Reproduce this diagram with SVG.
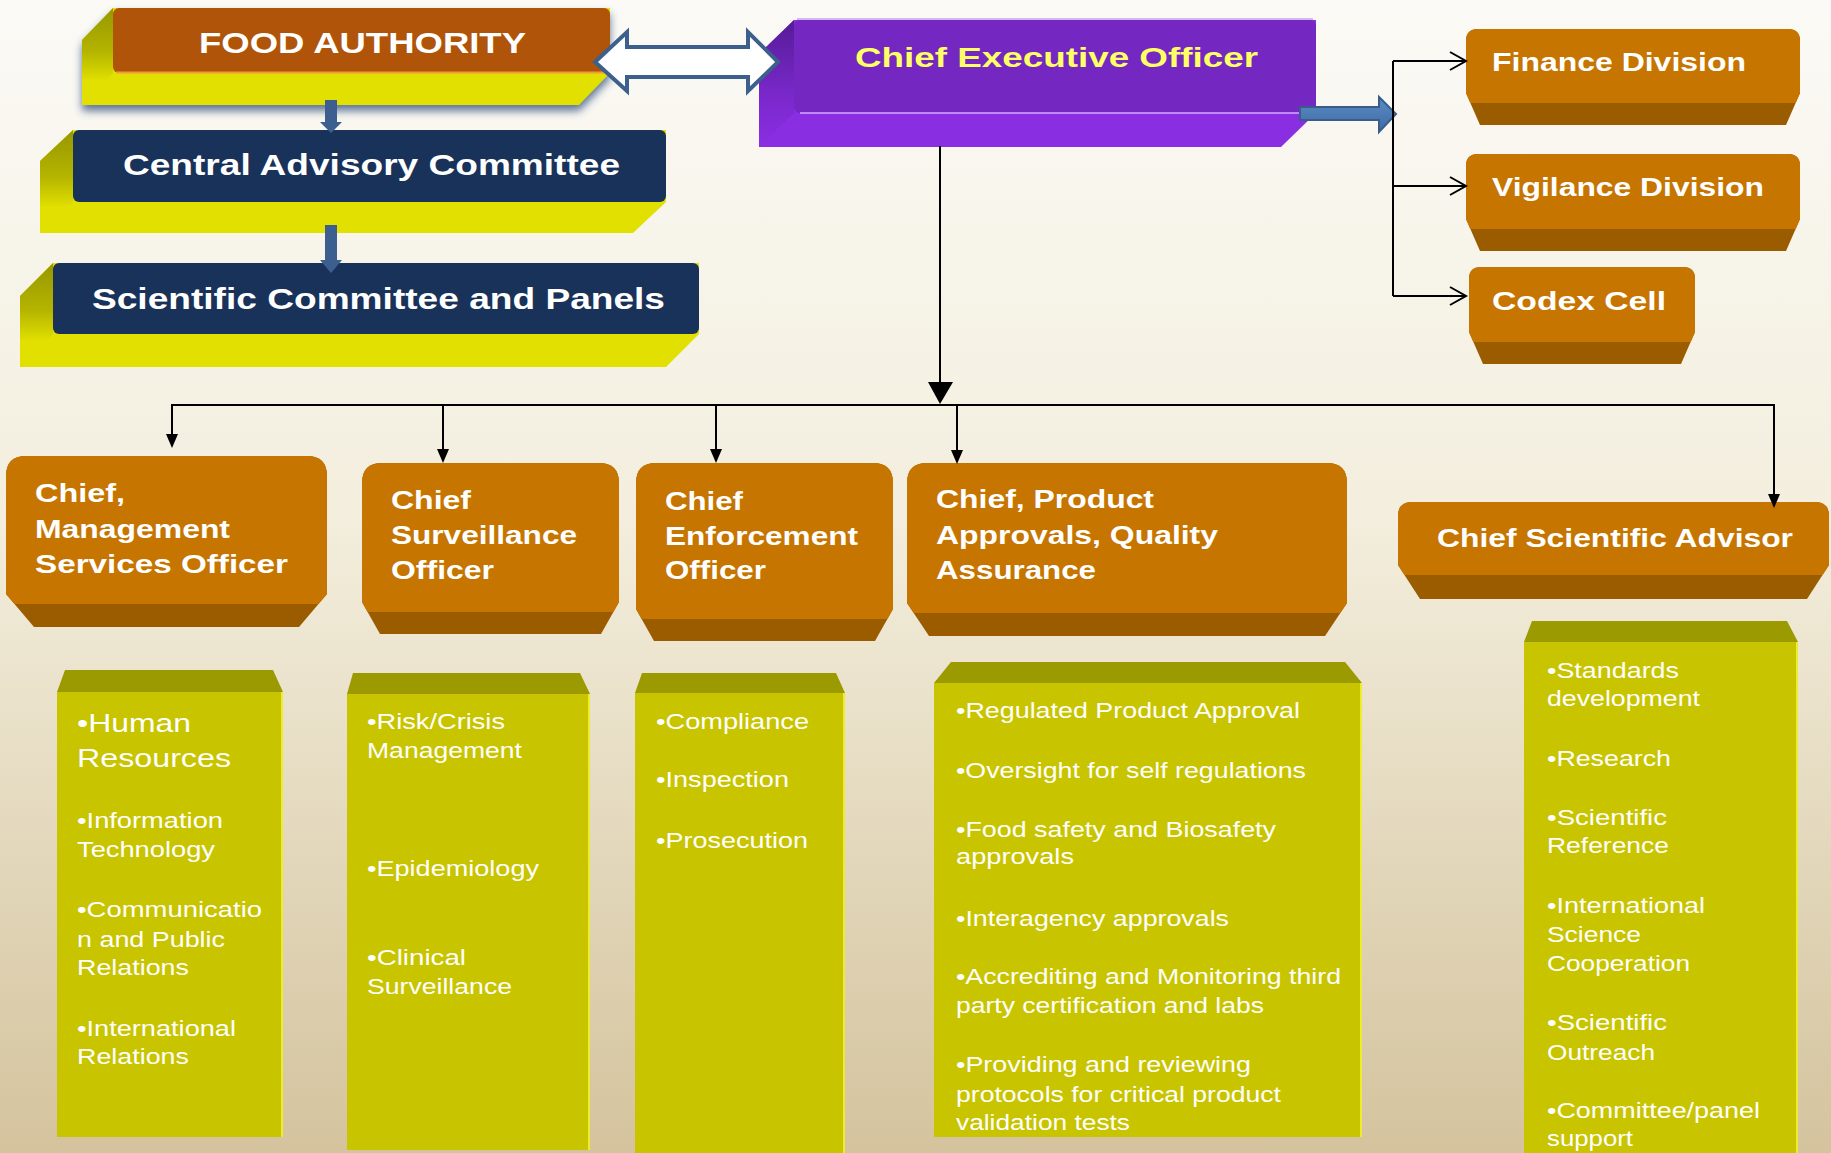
<svg xmlns="http://www.w3.org/2000/svg" width="1831" height="1153" viewBox="0 0 1831 1153">
<defs>
<linearGradient id="bg" x1="0" y1="0" x2="0" y2="1">
<stop offset="0" stop-color="#fbfaf6"/>
<stop offset="0.45" stop-color="#f3eedd"/>
<stop offset="1" stop-color="#d4c39d"/>
</linearGradient>
<linearGradient id="olive" x1="0" y1="0" x2="0" y2="1">
<stop offset="0" stop-color="#979700"/>
<stop offset="0.45" stop-color="#b4b400"/>
<stop offset="0.75" stop-color="#e1e000"/>
</linearGradient>
<linearGradient id="purpSide" x1="0" y1="0" x2="0" y2="1">
<stop offset="0" stop-color="#561c96"/>
<stop offset="0.6" stop-color="#7a28cc"/>
<stop offset="1" stop-color="#8a2ee2"/>
</linearGradient>
<linearGradient id="blueArr" x1="0" y1="0" x2="0" y2="1">
<stop offset="0" stop-color="#5b8cc8"/>
<stop offset="1" stop-color="#3e6aa3"/>
</linearGradient>
<filter id="blur" x="-10%" y="-30%" width="120%" height="160%">
<feGaussianBlur stdDeviation="4"/>
</filter>
<style>
.t{font-family:"Liberation Sans",Arial,sans-serif;fill:#fff}
.b{font-weight:bold}
.s30{font-size:30px}
.s28{font-size:28px}
.s25{font-size:25px}
.s26{font-size:26px}
.s22{font-size:22px}
.ceo{fill:#ffff66}
.navy{fill:#18325a}
.yel{fill:#e1e000}
.oside{fill:url(#olive)}
.org{fill:#c67500}
.band{fill:#9b5c00}
.cbody{fill:#c8c400}
.cbev{fill:#9b9a00}
.cedge{stroke:#ecec30;stroke-width:2;fill:none}
.ln{stroke:#000;stroke-width:2;fill:none}
.ah{fill:#000}
.sb{fill:#3d5f8f}
</style>
</defs>
<rect x="0" y="0" width="1831" height="1153" fill="url(#bg)"/>

<g id="food-authority">
<polygon points="113,14 610,14 610,79 579,111 82,111 82,46" fill="#2c4a7c" opacity="0.75" filter="url(#blur)"/>
<polygon class="yel" points="113,8 610,8 610,73 579,105 82,105 82,40"/>
<polygon class="oside" points="113,8 82,40 82,105 113,73"/>
<rect x="113" y="8" width="497" height="65" rx="6" fill="#b0540a"/>
<line x1="116" y1="72.5" x2="607" y2="72.5" stroke="#f39a3c" stroke-width="2"/>
<text class="t b s30" x="199" y="53" textLength="327" lengthAdjust="spacingAndGlyphs">FOOD AUTHORITY</text>
</g>

<g id="central-advisory-committee">
<polygon class="yel" points="73,130 666,130 666,202 633,233 40,233 40,161"/>
<polygon class="oside" points="73,130 40,161 40,233 73,202"/>
<rect class="navy" x="73" y="130" width="593" height="72" rx="6"/>
<text class="t b s30" x="123" y="175" textLength="497" lengthAdjust="spacingAndGlyphs">Central Advisory Committee</text>
</g>

<g id="scientific-committee">
<polygon class="yel" points="53,263 699,263 699,334 666,367 20,367 20,296"/>
<polygon class="oside" points="53,263 20,296 20,367 53,334"/>
<rect class="navy" x="53" y="263" width="646" height="71" rx="6"/>
<text class="t b s30" x="92" y="309" textLength="573" lengthAdjust="spacingAndGlyphs">Scientific Committee and Panels</text>
</g>

<g id="ceo">
<polygon fill="#8a2ee2" points="794,20 1316,20 1316,113 1281,147 759,147 759,54"/>
<polygon fill="url(#purpSide)" points="794,20 759,54 759,147 794,113"/>
<rect x="794" y="20" width="522" height="93" rx="6" fill="#7427c1"/>
<line x1="797" y1="19" x2="1313" y2="19" stroke="#c7a0f0" stroke-width="1.5"/>
<line x1="800" y1="113" x2="1312" y2="113" stroke="#d8a8ff" stroke-width="1.5"/>
<text class="t b s28 ceo" x="855" y="67" textLength="403" lengthAdjust="spacingAndGlyphs">Chief Executive Officer</text>
</g>

<g id="finance-division">
<path class="band" d="M1478,29 H1788 Q1800,29 1800,41 V93 L1786,125 H1480 L1466,93 V41 Q1466,29 1478,29Z"/>
<path class="org" d="M1478,29 H1788 Q1800,29 1800,41 V93 L1795.6,103 H1470.4 L1466,93 V41 Q1466,29 1478,29Z"/>
<text class="t b s25" x="1492" y="71" textLength="254" lengthAdjust="spacingAndGlyphs">Finance Division</text>
</g>

<g id="vigilance-division">
<path class="band" d="M1478,154 H1788 Q1800,154 1800,166 V219 L1786,251 H1480 L1466,219 V166 Q1466,154 1478,154Z"/>
<path class="org" d="M1478,154 H1788 Q1800,154 1800,166 V219 L1795.6,229 H1470.4 L1466,219 V166 Q1466,154 1478,154Z"/>
<text class="t b s25" x="1492" y="196" textLength="272" lengthAdjust="spacingAndGlyphs">Vigilance Division</text>
</g>

<g id="codex-cell">
<path class="band" d="M1481,267 H1683 Q1695,267 1695,279 V332 L1681,364 H1483 L1469,332 V279 Q1469,267 1481,267Z"/>
<path class="org" d="M1481,267 H1683 Q1695,267 1695,279 V332 L1690.6,342 H1473.4 L1469,332 V279 Q1469,267 1481,267Z"/>
<text class="t b s25" x="1492" y="310" textLength="174" lengthAdjust="spacingAndGlyphs">Codex  Cell</text>
</g>

<g id="chief-management">
<path class="band" d="M26,456 H307 Q327,456 327,476 V594 L299,627 H34 L6,594 V476 Q6,456 26,456Z"/>
<path class="org" d="M26,456 H307 Q327,456 327,476 V594 L318.5,604 H14.5 L6,594 V476 Q6,456 26,456Z"/>
<text class="t b s25" x="35" y="502" textLength="90" lengthAdjust="spacingAndGlyphs">Chief,</text>
<text class="t b s25" x="35" y="538" textLength="195" lengthAdjust="spacingAndGlyphs">Management</text>
<text class="t b s25" x="35" y="573" textLength="253" lengthAdjust="spacingAndGlyphs">Services  Officer</text>
</g>

<g id="chief-surveillance">
<path class="band" d="M382,463 H599 Q619,463 619,483 V602 L601,634 H380 L362,602 V483 Q362,463 382,463Z"/>
<path class="org" d="M382,463 H599 Q619,463 619,483 V602 L613.4,612 H367.6 L362,602 V483 Q362,463 382,463Z"/>
<text class="t b s25" x="391" y="509" textLength="80" lengthAdjust="spacingAndGlyphs">Chief</text>
<text class="t b s25" x="391" y="544" textLength="186" lengthAdjust="spacingAndGlyphs">Surveillance</text>
<text class="t b s25" x="391" y="579" textLength="103" lengthAdjust="spacingAndGlyphs">Officer</text>
</g>

<g id="chief-enforcement">
<path class="band" d="M656,463 H873 Q893,463 893,483 V609 L875,641 H654 L636,609 V483 Q636,463 656,463Z"/>
<path class="org" d="M656,463 H873 Q893,463 893,483 V609 L887.4,619 H641.6 L636,609 V483 Q636,463 656,463Z"/>
<text class="t b s25" x="665" y="510" textLength="78" lengthAdjust="spacingAndGlyphs">Chief</text>
<text class="t b s25" x="665" y="545" textLength="193" lengthAdjust="spacingAndGlyphs">Enforcement</text>
<text class="t b s25" x="665" y="579" textLength="101" lengthAdjust="spacingAndGlyphs">Officer</text>
</g>

<g id="chief-product">
<path class="band" d="M927,463 H1327 Q1347,463 1347,483 V603 L1325,636 H929 L907,603 V483 Q907,463 927,463Z"/>
<path class="org" d="M927,463 H1327 Q1347,463 1347,483 V603 L1340.3,613 H913.7 L907,603 V483 Q907,463 927,463Z"/>
<text class="t b s25" x="936" y="508" textLength="218" lengthAdjust="spacingAndGlyphs">Chief, Product</text>
<text class="t b s25" x="936" y="544" textLength="282" lengthAdjust="spacingAndGlyphs">Approvals, Quality</text>
<text class="t b s25" x="936" y="579" textLength="160" lengthAdjust="spacingAndGlyphs">Assurance</text>
</g>

<g id="chief-scientific-advisor">
<path class="band" d="M1412,502 H1815 Q1829,502 1829,516 V565 L1807,599 H1420 L1398,565 V516 Q1398,502 1412,502Z"/>
<path class="org" d="M1412,502 H1815 Q1829,502 1829,516 V565 L1822.5,575 H1404.5 L1398,565 V516 Q1398,502 1412,502Z"/>
<text class="t b s25" x="1437" y="547" textLength="356" lengthAdjust="spacingAndGlyphs">Chief Scientific Advisor</text>
</g>

<g id="duties-management">
<polygon class="cbev" points="65,670 273,670 283,692 57,692"/>
<rect class="cbody" x="57" y="692" width="226" height="445"/>
<line class="cedge" x1="282" y1="692" x2="282" y2="1137"/>
<text class="t s26" x="77" y="732" textLength="114" lengthAdjust="spacingAndGlyphs">•Human</text>
<text class="t s26" x="77" y="767" textLength="154" lengthAdjust="spacingAndGlyphs">Resources</text>
<text class="t s22" x="77" y="828" textLength="146" lengthAdjust="spacingAndGlyphs">•Information</text>
<text class="t s22" x="77" y="857" textLength="138" lengthAdjust="spacingAndGlyphs">Technology</text>
<text class="t s22" x="77" y="917" textLength="185" lengthAdjust="spacingAndGlyphs">•Communicatio</text>
<text class="t s22" x="77" y="947" textLength="148" lengthAdjust="spacingAndGlyphs">n and Public</text>
<text class="t s22" x="77" y="975" textLength="112" lengthAdjust="spacingAndGlyphs">Relations</text>
<text class="t s22" x="77" y="1036" textLength="159" lengthAdjust="spacingAndGlyphs">•International</text>
<text class="t s22" x="77" y="1064" textLength="112" lengthAdjust="spacingAndGlyphs">Relations</text>
</g>

<g id="duties-surveillance">
<polygon class="cbev" points="353,673 580,673 590,694 347,694"/>
<rect class="cbody" x="347" y="694" width="243" height="456"/>
<line class="cedge" x1="589" y1="694" x2="589" y2="1150"/>
<text class="t s22" x="367" y="729" textLength="138" lengthAdjust="spacingAndGlyphs">•Risk/Crisis</text>
<text class="t s22" x="367" y="758" textLength="155" lengthAdjust="spacingAndGlyphs">Management</text>
<text class="t s22" x="367" y="876" textLength="172" lengthAdjust="spacingAndGlyphs">•Epidemiology</text>
<text class="t s22" x="367" y="965" textLength="99" lengthAdjust="spacingAndGlyphs">•Clinical</text>
<text class="t s22" x="367" y="994" textLength="145" lengthAdjust="spacingAndGlyphs">Surveillance</text>
</g>

<g id="duties-enforcement">
<polygon class="cbev" points="642,673 836,673 845,693 635,693"/>
<rect class="cbody" x="635" y="693" width="210" height="460"/>
<line class="cedge" x1="844" y1="693" x2="844" y2="1153"/>
<text class="t s22" x="656" y="729" textLength="153" lengthAdjust="spacingAndGlyphs">•Compliance</text>
<text class="t s22" x="656" y="787" textLength="133" lengthAdjust="spacingAndGlyphs">•Inspection</text>
<text class="t s22" x="656" y="848" textLength="152" lengthAdjust="spacingAndGlyphs">•Prosecution</text>
</g>

<g id="duties-product">
<polygon class="cbev" points="951,662 1345,662 1362,683 934,683"/>
<rect class="cbody" x="934" y="683" width="428" height="454"/>
<line class="cedge" x1="1361" y1="683" x2="1361" y2="1137"/>
<text class="t s22" x="956" y="718" textLength="344" lengthAdjust="spacingAndGlyphs">•Regulated Product Approval</text>
<text class="t s22" x="956" y="778" textLength="350" lengthAdjust="spacingAndGlyphs">•Oversight for self regulations</text>
<text class="t s22" x="956" y="837" textLength="320" lengthAdjust="spacingAndGlyphs">•Food safety and Biosafety</text>
<text class="t s22" x="956" y="864" textLength="118" lengthAdjust="spacingAndGlyphs">approvals</text>
<text class="t s22" x="956" y="926" textLength="273" lengthAdjust="spacingAndGlyphs">•Interagency approvals</text>
<text class="t s22" x="956" y="984" textLength="385" lengthAdjust="spacingAndGlyphs">•Accrediting and Monitoring third</text>
<text class="t s22" x="956" y="1013" textLength="308" lengthAdjust="spacingAndGlyphs">party certification and labs</text>
<text class="t s22" x="956" y="1072" textLength="295" lengthAdjust="spacingAndGlyphs">•Providing and reviewing</text>
<text class="t s22" x="956" y="1102" textLength="325" lengthAdjust="spacingAndGlyphs">protocols for critical product</text>
<text class="t s22" x="956" y="1130" textLength="174" lengthAdjust="spacingAndGlyphs">validation tests</text>
</g>

<g id="duties-scientific">
<polygon class="cbev" points="1532,621 1787,621 1798,642 1524,642"/>
<rect class="cbody" x="1524" y="642" width="274" height="511"/>
<line class="cedge" x1="1797" y1="642" x2="1797" y2="1153"/>
<text class="t s22" x="1547" y="678" textLength="132" lengthAdjust="spacingAndGlyphs">•Standards</text>
<text class="t s22" x="1547" y="706" textLength="153" lengthAdjust="spacingAndGlyphs">development</text>
<text class="t s22" x="1547" y="766" textLength="124" lengthAdjust="spacingAndGlyphs">•Research</text>
<text class="t s22" x="1547" y="825" textLength="120" lengthAdjust="spacingAndGlyphs">•Scientific</text>
<text class="t s22" x="1547" y="853" textLength="122" lengthAdjust="spacingAndGlyphs">Reference</text>
<text class="t s22" x="1547" y="913" textLength="158" lengthAdjust="spacingAndGlyphs">•International</text>
<text class="t s22" x="1547" y="942" textLength="94" lengthAdjust="spacingAndGlyphs">Science</text>
<text class="t s22" x="1547" y="971" textLength="143" lengthAdjust="spacingAndGlyphs">Cooperation</text>
<text class="t s22" x="1547" y="1030" textLength="120" lengthAdjust="spacingAndGlyphs">•Scientific</text>
<text class="t s22" x="1547" y="1060" textLength="108" lengthAdjust="spacingAndGlyphs">Outreach</text>
<text class="t s22" x="1547" y="1118" textLength="213" lengthAdjust="spacingAndGlyphs">•Committee/panel</text>
<text class="t s22" x="1547" y="1146" textLength="86" lengthAdjust="spacingAndGlyphs">support</text>
</g>

<g id="connectors">
<polygon class="sb" points="325,100 337,100 337,122 342,122 331,133 320,122 325,122"/>
<polygon class="sb" points="325,225 337,225 337,260 342,260 331,273 320,260 325,260"/>
<polygon points="595,62 627,32 627,47 748,47 748,32 778,62 748,91 748,77 627,77 627,91" fill="#ffffff" stroke="#3c5f8c" stroke-width="4"/>
<polygon points="1300,107 1379,107 1379,97 1396,114 1379,132 1379,120 1300,120" fill="url(#blueArr)" stroke="#385d8a" stroke-width="2"/>
<path class="ln" d="M1393,61 V296 M1393,61 H1465 M1393,186 H1465 M1393,296 H1465"/>
<path class="ln" d="M1450,52 L1466,61 L1450,70 M1450,177 L1466,186 L1450,195 M1450,287 L1466,296 L1450,305"/>
<path class="ln" d="M940,146 V383"/>
<polygon class="ah" points="928,382 953,382 940,404"/>
<path class="ln" d="M172,436 V405 H1774 V496 M443,405 V451 M716,405 V451 M957,405 V452"/>
<polygon class="ah" points="166,434 178,434 172,448"/>
<polygon class="ah" points="437,449 449,449 443,463"/>
<polygon class="ah" points="710,449 722,449 716,463"/>
<polygon class="ah" points="951,450 963,450 957,464"/>
<polygon class="ah" points="1768,494 1780,494 1774,508"/>
</g>
</svg>
